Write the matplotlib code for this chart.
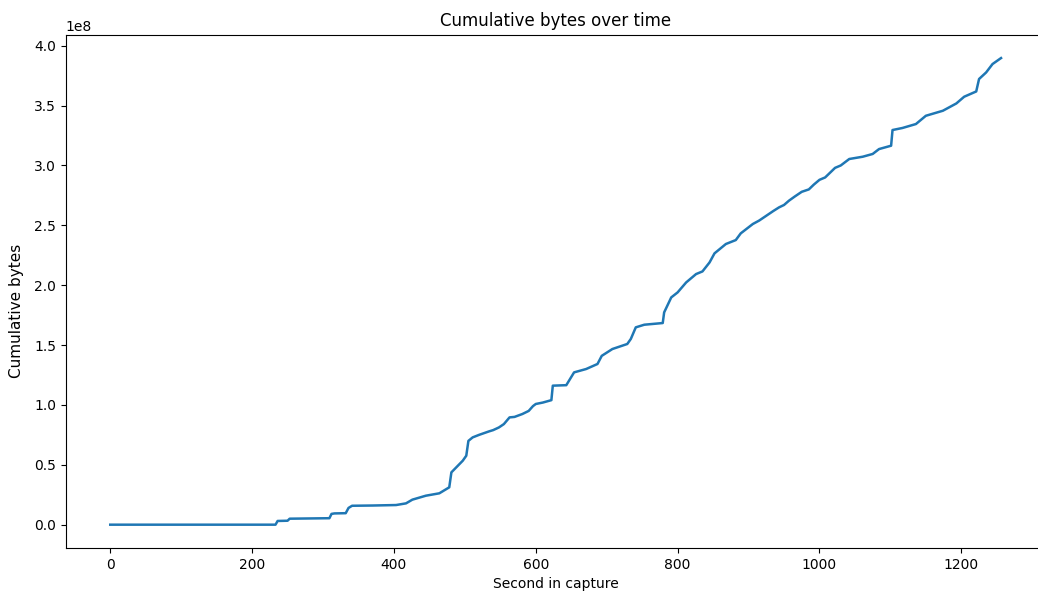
import matplotlib.pyplot as plt

# seconds in capture and cumulative bytes (in units of 1e8)
seconds = [0, 100, 200, 233, 236, 250, 253, 309, 312, 316, 332, 336, 341, 370, 403, 417,
           426, 445, 464, 478, 481, 497, 502, 505, 511, 520, 534, 540, 548, 555, 563,
           570, 581, 590, 596, 600, 610, 619, 622, 624, 643, 654, 671, 687, 693, 708,
           729, 734, 741, 753, 779, 781, 791, 800, 812, 826, 835, 845, 852, 868, 882,
           889, 906, 915, 925, 935, 943, 950, 957, 965, 975, 985, 992, 1000, 1008, 1015,
           1022, 1030, 1042, 1061, 1075, 1084, 1101, 1103, 1117, 1136, 1150, 1174, 1193,
           1204, 1221, 1225, 1235, 1244, 1256]
cum_bytes = [0.0, 0.0, 0.0, 0.0, 0.031, 0.033, 0.05, 0.054, 0.09, 0.094, 0.096, 0.14, 0.158,
             0.16, 0.164, 0.178, 0.209, 0.242, 0.262, 0.312, 0.437, 0.534, 0.576, 0.70,
             0.729, 0.75, 0.779, 0.79, 0.812, 0.84, 0.896, 0.90, 0.924, 0.95, 0.99, 1.008,
             1.02, 1.035, 1.04, 1.161, 1.165, 1.272, 1.30, 1.342, 1.41, 1.467, 1.509,
             1.551, 1.648, 1.67, 1.684, 1.773, 1.898, 1.94, 2.023, 2.093, 2.115, 2.19,
             2.266, 2.344, 2.377, 2.433, 2.511, 2.54, 2.58, 2.62, 2.65, 2.67, 2.706, 2.74,
             2.78, 2.80, 2.84, 2.88, 2.90, 2.94, 2.98, 3.0, 3.054, 3.073, 3.096, 3.137,
             3.165, 3.296, 3.313, 3.346, 3.415, 3.457, 3.518, 3.574, 3.618, 3.722, 3.777,
             3.847, 3.897]

cum_bytes = [v * 1e8 for v in cum_bytes]

fig = plt.figure(figsize=(10.38, 6.05), dpi=100)
# axes runs past the right edge, like the cropped original
ax = fig.add_axes([0.0633, 0.0942, 0.944, 0.8484])
ax.plot(seconds, cum_bytes, color='#1f77b4', linewidth=1.8)

ax.set_title("Cumulative bytes over time", fontsize=12)
ax.set_xlabel("Second in capture", fontsize=10)
ax.set_ylabel("Cumulative bytes", fontsize=11)
ax.yaxis.set_label_coords(-0.043, 0.462)
ax.set_xticks([0, 200, 400, 600, 800, 1000, 1200])
ax.set_yticks([0, 0.5e8, 1e8, 1.5e8, 2e8, 2.5e8, 3e8, 3.5e8, 4e8])
ax.tick_params(labelsize=10)

fig.savefig('out.png', dpi=100)
